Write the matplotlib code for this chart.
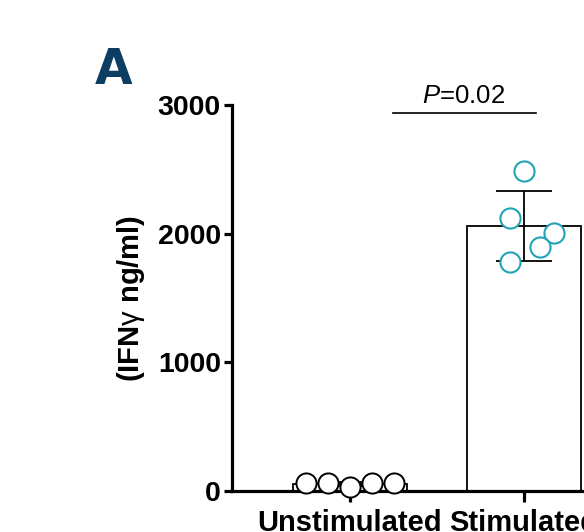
import matplotlib
matplotlib.use("Agg")
import matplotlib.pyplot as plt
import numpy as np

categories = ["Unstimulated", "Stimulated"]
unstim_values = [62, 62, 31, 62, 62]
stim_values = [2486, 2121, 2005, 1896, 1779]
unstim_offsets = [-0.253, -0.126, 0.0, 0.126, 0.253]
stim_offsets = [0.0, -0.08, 0.17, 0.09, -0.08]
yticks = [0, 1000, 2000, 3000]
p_label = "$\\it{P}$=0.02"

plt.rcParams['font.family'] = ['Liberation Sans', 'DejaVu Sans']
plt.rcParams['mathtext.fontset'] = 'custom'
plt.rcParams['mathtext.rm'] = 'Liberation Sans'
plt.rcParams['mathtext.it'] = 'Liberation Sans:italic'
plt.rcParams['mathtext.bf'] = 'Liberation Sans:bold'

fig = plt.figure(figsize=(5.84, 5.32), dpi=100)
ax = fig.add_axes([232/584, 1-491/532, 358/584, 386/532])

means = [np.mean(unstim_values), np.mean(stim_values)]
sds = [np.std(unstim_values, ddof=1), np.std(stim_values, ddof=1)]
xs = np.arange(len(categories))

ax.bar(xs, means, width=0.655, color="white", edgecolor="black", linewidth=1.3, zorder=2)
ax.errorbar(xs, means, yerr=sds, fmt="none", ecolor="black", elinewidth=1.3,
            capsize=20, capthick=1.3, zorder=3)

ax.plot(xs[0] + np.array(unstim_offsets), unstim_values, "o", ms=14.5, mfc="white",
        mec="black", mew=1.4, zorder=4, clip_on=False)
ax.plot(xs[1] + np.array(stim_offsets), stim_values, "o", ms=14.5, mfc="white",
        mec="#22a2b5", mew=1.5, zorder=4, clip_on=False)

ax.set_xlim(-0.678, -0.678 + 358/174)
ax.set_ylim(0, 3000)
ax.set_yticks(yticks)
ax.set_yticklabels([str(t) for t in yticks], fontsize=20.5, fontweight="bold")
ax.set_xticks(xs)
ax.set_xticklabels(categories, fontsize=21, fontweight="bold")
for s in ["top", "right"]:
    ax.spines[s].set_visible(False)
for s in ["left", "bottom"]:
    ax.spines[s].set_linewidth(2.3)
ax.tick_params(axis="y", length=6, width=2.3, pad=2)
ax.tick_params(axis="x", length=8, width=2.3, pad=5)
ax.set_ylabel("(IFN$\\mathrm{\\gamma}$ ng/ml)", fontsize=21, fontweight="bold", labelpad=8)

# significance bar
ax.plot([0.247, 1.069], [2937, 2937], color="black", lw=1.2, clip_on=False)
ax.text(0.655, 2975, p_label, fontsize=18.5, ha="center", va="bottom")

fig.text(95/584, 1-84/532, "A", fontsize=35, fontweight="bold", color="#0d3d60",
         family=["DejaVu Sans"])

fig.savefig("out.png", dpi=100)
